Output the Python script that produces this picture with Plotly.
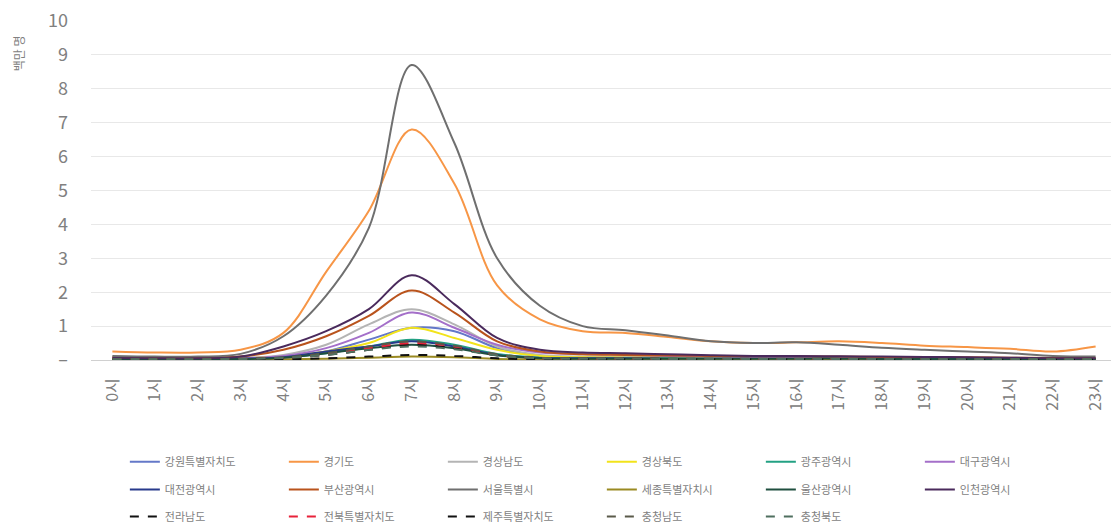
import plotly.graph_objects as go

hours = [f"{h}시" for h in range(24)]
y_ticks = [0, 1, 2, 3, 4, 5, 6, 7, 8, 9, 10]
y_tick_text = ["–", "1", "2", "3", "4", "5", "6", "7", "8", "9", "10"]

gangwon = [0.03,0.03,0.03,0.04,0.08,0.25,0.6,0.95,0.85,0.35,0.12,0.08,0.07,0.06,0.06,0.05,0.05,0.05,0.04,0.04,0.04,0.03,0.03,0.03]
gyeonggi = [0.25,0.22,0.22,0.3,0.8,2.6,4.4,6.8,5.2,2.2,1.2,0.85,0.8,0.68,0.55,0.5,0.52,0.55,0.5,0.42,0.38,0.33,0.25,0.4]
gyeongnam = [0.05,0.04,0.04,0.06,0.15,0.45,1.05,1.5,1.05,0.4,0.15,0.1,0.1,0.09,0.08,0.08,0.08,0.07,0.06,0.06,0.05,0.05,0.04,0.04]
gyeongbuk = [0.04,0.03,0.03,0.05,0.1,0.25,0.5,0.95,0.65,0.3,0.12,0.08,0.07,0.07,0.06,0.06,0.06,0.05,0.05,0.04,0.04,0.04,0.03,0.03]
gwangju = [0.03,0.03,0.03,0.04,0.08,0.2,0.4,0.6,0.45,0.18,0.07,0.05,0.05,0.05,0.04,0.04,0.04,0.04,0.04,0.03,0.03,0.03,0.03,0.03]
daegu = [0.04,0.04,0.04,0.05,0.12,0.35,0.8,1.4,0.95,0.45,0.22,0.18,0.16,0.12,0.1,0.09,0.09,0.08,0.07,0.07,0.06,0.05,0.05,0.04]
daejeon = [0.03,0.03,0.03,0.04,0.08,0.25,0.4,0.55,0.4,0.15,0.06,0.05,0.05,0.04,0.04,0.04,0.04,0.04,0.03,0.03,0.03,0.03,0.03,0.03]
busan = [0.08,0.06,0.06,0.1,0.3,0.7,1.3,2.05,1.4,0.55,0.25,0.17,0.15,0.13,0.12,0.11,0.11,0.1,0.09,0.08,0.08,0.07,0.06,0.06]
seoul = [0.12,0.1,0.1,0.18,0.7,1.9,3.9,8.7,6.4,3.0,1.6,1.0,0.88,0.72,0.55,0.5,0.52,0.45,0.36,0.3,0.25,0.2,0.12,0.1]
sejong = [0.01,0.01,0.01,0.01,0.02,0.04,0.07,0.1,0.08,0.03,0.02,0.01,0.01,0.01,0.01,0.01,0.01,0.01,0.01,0.01,0.01,0.01,0.01,0.01]
ulsan = [0.03,0.03,0.03,0.03,0.07,0.2,0.35,0.45,0.35,0.14,0.05,0.04,0.04,0.04,0.04,0.04,0.04,0.04,0.03,0.03,0.03,0.03,0.03,0.03]
incheon = [0.06,0.05,0.05,0.1,0.4,0.85,1.5,2.5,1.65,0.65,0.3,0.22,0.2,0.17,0.14,0.12,0.12,0.11,0.1,0.09,0.08,0.07,0.05,0.05]
jeonnam = [0.02,0.02,0.02,0.03,0.06,0.15,0.3,0.45,0.35,0.14,0.05,0.04,0.04,0.03,0.03,0.03,0.03,0.03,0.03,0.02,0.02,0.02,0.02,0.02]
jeonbuk = [0.02,0.02,0.02,0.03,0.06,0.17,0.35,0.5,0.4,0.15,0.05,0.04,0.04,0.03,0.03,0.03,0.03,0.03,0.03,0.02,0.02,0.02,0.02,0.02]
jeju = [0.01,0.01,0.01,0.01,0.02,0.05,0.1,0.15,0.12,0.05,0.02,0.02,0.02,0.02,0.02,0.02,0.02,0.02,0.01,0.01,0.01,0.01,0.01,0.01]
chungnam = [0.03,0.03,0.03,0.04,0.08,0.2,0.4,0.55,0.42,0.17,0.06,0.05,0.05,0.04,0.04,0.04,0.04,0.04,0.03,0.03,0.03,0.03,0.03,0.03]
chungbuk = [0.02,0.02,0.02,0.03,0.06,0.15,0.3,0.4,0.32,0.13,0.05,0.04,0.04,0.03,0.03,0.03,0.03,0.03,0.03,0.02,0.02,0.02,0.02,0.02]

series = [
    ("강원특별자치도", gangwon, "#6478c8", "solid", "legend"),
    ("경기도", gyeonggi, "#f79646", "solid", "legend"),
    ("경상남도", gyeongnam, "#b4b4b4", "solid", "legend"),
    ("경상북도", gyeongbuk, "#f2e31b", "solid", "legend"),
    ("광주광역시", gwangju, "#23a183", "solid", "legend"),
    ("대구광역시", daegu, "#a46fc9", "solid", "legend"),
    ("대전광역시", daejeon, "#283a8c", "solid", "legend2"),
    ("부산광역시", busan, "#b9531c", "solid", "legend2"),
    ("서울특별시", seoul, "#6f6f6f", "solid", "legend2"),
    ("세종특별자치시", sejong, "#9a8a22", "solid", "legend2"),
    ("울산광역시", ulsan, "#1f4f3f", "solid", "legend2"),
    ("인천광역시", incheon, "#4a2a5c", "solid", "legend2"),
    ("전라남도", jeonnam, "#111111", "dash", "legend3"),
    ("전북특별자치도", jeonbuk, "#e8223a", "dash", "legend3"),
    ("제주특별자치도", jeju, "#111111", "dash", "legend3"),
    ("충청남도", chungnam, "#5a5a4a", "dash", "legend3"),
    ("충청북도", chungbuk, "#4f6f5f", "dash", "legend3"),
]

fig = go.Figure()
for name, vals, color, dash, lg in series:
    fig.add_trace(go.Scatter(
        x=hours, y=vals, name=name, mode="lines",
        line=dict(color=color, width=2, dash=dash, shape="spline", smoothing=1.0),
        legend=lg,
    ))

FONT = "Noto Sans CJK KR, Noto Sans, sans-serif"
legend_common = dict(
    orientation="h", x=0.033, xanchor="left", yanchor="middle",
    font=dict(family=FONT, size=11, color="#7f7f7f"),
    entrywidth=114, entrywidthmode="pixels",
    bgcolor="rgba(0,0,0,0)", itemwidth=30,
)

fig.update_layout(
    width=1111, height=519,
    margin=dict(l=83, r=2, t=13, b=167, autoexpand=False),
    paper_bgcolor="white", plot_bgcolor="white",
    font=dict(family=FONT, color="#808080"),
    showlegend=True,
    legend=dict(y=-0.30, **legend_common),
    legend2=dict(y=-0.382, **legend_common),
    legend3=dict(y=-0.462, **legend_common),
    xaxis=dict(
        type="category", tickangle=-90, showgrid=False, showline=False,
        range=[-0.5, 23.5], ticks="", ticklabelstandoff=14,
        tickfont=dict(family=FONT, size=16, color="#808080"),
    ),
    yaxis=dict(
        range=[0, 10], tickvals=y_ticks, ticktext=y_tick_text,
        showgrid=True, gridcolor="#e8e8e8", gridwidth=1,
        zeroline=True, zerolinecolor="#d0d0d0", zerolinewidth=1,
        showline=False, ticks="", ticklabelstandoff=22,
        ticklabeloverflow="allow",
        tickfont=dict(family=FONT, size=18, color="#808080"),
    ),
    annotations=[dict(
        text="백만 명", textangle=-90, xref="paper", yref="paper",
        x=-0.071, y=0.905, xanchor="center", yanchor="middle", showarrow=False,
        font=dict(family=FONT, size=12, color="#808080"),
    )],
)

fig.write_html("out.html")
